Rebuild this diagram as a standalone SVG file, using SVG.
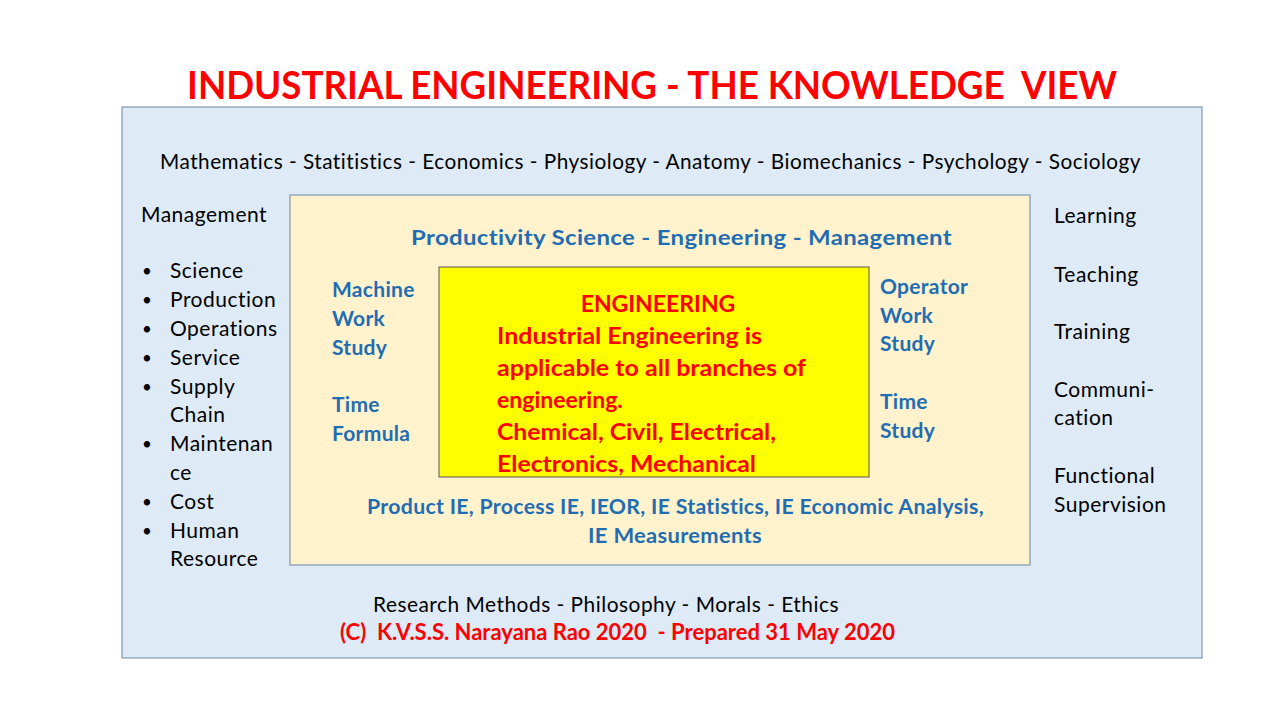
<svg xmlns="http://www.w3.org/2000/svg" width="1280" height="720" viewBox="0 0 1280 720">
<style>
text{font-family:Lato,"Open Sans","Liberation Sans",sans-serif;}
.blk{fill:#000;font-size:21px;letter-spacing:0.5px;}
.bul{fill:#000;font-size:17px;}
.blu{fill:#1F6DB3;font-weight:bold;font-size:21px;letter-spacing:0.3px;}
.red{fill:#FF0000;font-weight:bold;font-size:23px;}
.box{stroke:#6A87A3;stroke-width:1;}
</style>
<rect width="1280" height="720" fill="#FFFFFF"/>
<text id="title" x="652" y="99" text-anchor="middle" font-size="38" font-weight="bold" fill="#FF0000" textLength="930" lengthAdjust="spacingAndGlyphs" xml:space="preserve">INDUSTRIAL ENGINEERING - THE KNOWLEDGE  VIEW</text>
<g id="outer">
<rect class="box" x="122" y="107" width="1080" height="551" fill="#DEEBF7"/>
<text class="blk" x="160" y="169" font-size="20" textLength="981" lengthAdjust="spacingAndGlyphs">Mathematics - Statitistics - Economics - Physiology - Anatomy - Biomechanics - Psychology - Sociology</text>
<text class="blk" x="373" y="612" font-size="20" textLength="466" lengthAdjust="spacingAndGlyphs">Research Methods - Philosophy - Morals - Ethics</text>
<text class="red" x="340" y="640" font-size="20" textLength="555" lengthAdjust="spacingAndGlyphs" xml:space="preserve">(C)  K.V.S.S. Narayana Rao 2020  - Prepared 31 May 2020</text>
</g>
<g id="management">
<text class="blk" x="141" y="222">Management</text>
<g class="blk">
<text class="bul" x="142" y="277">•</text><text x="170" y="278">Science</text>
<text class="bul" x="142" y="306">•</text><text x="170" y="307">Production</text>
<text class="bul" x="142" y="335">•</text><text x="170" y="336">Operations</text>
<text class="bul" x="142" y="364">•</text><text x="170" y="365">Service</text>
<text class="bul" x="142" y="393">•</text><text x="170" y="394">Supply</text>
<text x="170" y="422">Chain</text>
<text class="bul" x="142" y="450">•</text><text x="170" y="451">Maintenan</text>
<text x="170" y="480">ce</text>
<text class="bul" x="142" y="508">•</text><text x="170" y="509">Cost</text>
<text class="bul" x="142" y="537">•</text><text x="170" y="538">Human</text>
<text x="170" y="566">Resource</text>
</g>
</g>
<g id="learning">
<text class="blk" x="1054" y="223">Learning</text>
<text class="blk" x="1054" y="282">Teaching</text>
<text class="blk" x="1054" y="339">Training</text>
<text class="blk" x="1054" y="397">Communi-</text>
<text class="blk" x="1054" y="425">cation</text>
<text class="blk" x="1054" y="483">Functional</text>
<text class="blk" x="1054" y="512">Supervision</text>
</g>
<g id="inner">
<rect class="box" x="290" y="195" width="740" height="370" fill="#FFF2CC"/>
<text class="blu" x="411" y="245" font-size="22" textLength="541" lengthAdjust="spacingAndGlyphs">Productivity Science - Engineering - Management</text>
<text class="blu" x="367" y="514" font-size="20" textLength="617" lengthAdjust="spacingAndGlyphs">Product IE, Process IE, IEOR, IE Statistics, IE Economic Analysis,</text>
<text class="blu" x="588" y="543" font-size="20" textLength="174" lengthAdjust="spacingAndGlyphs">IE Measurements</text>
</g>
<g id="machine">
<text class="blu" x="332" y="297">Machine</text>
<text class="blu" x="332" y="326">Work</text>
<text class="blu" x="332" y="355">Study</text>
<text class="blu" x="332" y="412">Time</text>
<text class="blu" x="332" y="441">Formula</text>
</g>
<g id="operator">
<text class="blu" x="880" y="294">Operator</text>
<text class="blu" x="880" y="323">Work</text>
<text class="blu" x="880" y="351">Study</text>
<text class="blu" x="880" y="409">Time</text>
<text class="blu" x="880" y="438">Study</text>
</g>
<g id="engineering">
<rect x="439" y="267" width="430" height="210" fill="#FFFF00" stroke="#555555" stroke-width="1"/>
<text class="red" x="658" y="312" text-anchor="middle">ENGINEERING</text>
<text class="red" x="497" y="344" textLength="265" lengthAdjust="spacingAndGlyphs">Industrial Engineering is</text>
<text class="red" x="497" y="376" textLength="309" lengthAdjust="spacingAndGlyphs">applicable to all branches of</text>
<text class="red" x="497" y="408">engineering.</text>
<text class="red" x="497" y="440" textLength="279" lengthAdjust="spacingAndGlyphs">Chemical, Civil, Electrical,</text>
<text class="red" x="497" y="472" textLength="259" lengthAdjust="spacingAndGlyphs">Electronics, Mechanical</text>
</g>
</svg>
